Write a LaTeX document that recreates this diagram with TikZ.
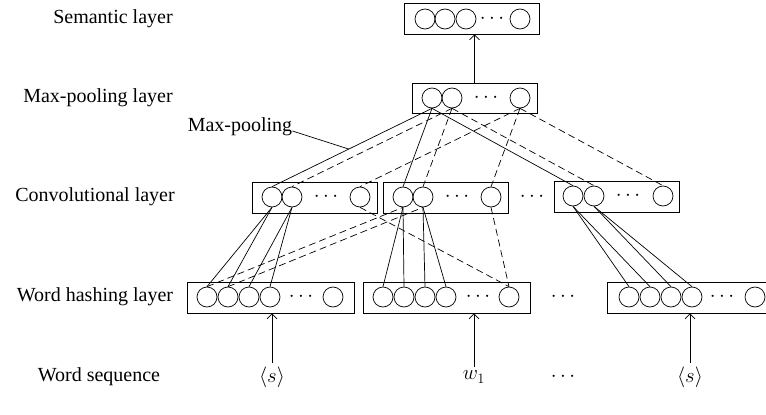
\documentclass[tikz,border=0pt]{standalone}
\usepackage{fontspec}
\setmainfont{Liberation Serif}
\usetikzlibrary{arrows.meta,calc}

\tikzset{
    unit/.style={draw, circle, minimum size=20pt, inner sep=0pt, line width=0.7pt},
    layerbox/.style={draw, rectangle, inner sep=0pt, minimum height=31pt, line width=0.7pt},
    conn/.style={line width=0.7pt},
    dconn/.style={line width=0.7pt, dash pattern=on 7pt off 4pt},
    uparrow/.style={line width=0.7pt, -{Straight Barb[length=5pt,width=10pt]}},
    layername/.style={inner sep=0pt},
}

\begin{document}
\begin{tikzpicture}[x=1pt, y=-1pt, font=\fontsize{20}{24}\selectfont]
    \useasboundingbox (0,0) rectangle (766,415);

    % Layer names
    \node[layername] (lsem) at (113, 19) {Semantic layer};
    \node[layername] (lmp) at (98, 98) {Max-pooling layer};
    \node[layername] (lconv) at (95, 197) {Convolutional layer};
    \node[layername] (lwh) at (95, 297) {Word hashing layer};
    \node[layername] (lws) at (99, 377) {Word sequence};

    % Semantic layer
    \node[layerbox, minimum width=135pt] (sembox) at (471.5, 18.5) {};
    \node[unit] (s1) at (425, 19) {};
    \node[unit] (s2) at (445, 19) {};
    \node[unit] (s3) at (466, 19) {};
    \node (sdots) at (492, 19) {$\cdots$};
    \node[unit] (s4) at (520, 19) {};

    % Max-pooling layer
    \node[layerbox, minimum width=125pt, minimum height=30pt] (mpbox) at (474.5, 98) {};
    \node[unit] (m1) at (432, 98) {};
    \node[unit] (m2) at (452, 98) {};
    \node (mdots) at (486, 98) {$\cdots$};
    \node[unit] (m3) at (520, 98) {};

    % Convolutional layer
    \node[layerbox, minimum width=125pt] (cbox1) at (314.5, 197.5) {};
    \node[unit] (c11) at (272, 197) {};
    \node[unit] (c12) at (292, 197) {};
    \node (c1dots) at (326, 197) {$\cdots$};
    \node[unit] (c13) at (360, 197) {};

    \node[layerbox, minimum width=125pt] (cbox2) at (445.5, 197.5) {};
    \node[unit] (c21) at (403, 197) {};
    \node[unit] (c22) at (423, 197) {};
    \node (c2dots) at (457, 197) {$\cdots$};
    \node[unit] (c23) at (491, 197) {};

    \node (cdots) at (532, 197) {$\cdots$};

    \node[layerbox, minimum width=125pt] (cbox3) at (616.5, 196.5) {};
    \node[unit] (c31) at (573, 196) {};
    \node[unit] (c32) at (594, 196) {};
    \node (c3dots) at (628, 196) {$\cdots$};
    \node[unit] (c33) at (663, 196) {};

    % Word hashing layer
    \node[layerbox, minimum width=167pt] (hbox1) at (270.5, 297.5) {};
    \node[unit] (h11) at (207, 297) {};
    \node[unit] (h12) at (228, 297) {};
    \node[unit] (h13) at (249, 297) {};
    \node[unit] (h14) at (270, 297) {};
    \node (h1dots) at (301, 297) {$\cdots$};
    \node[unit] (h15) at (333, 297) {};

    \node[layerbox, minimum width=167pt] (hbox2) at (446.5, 297.5) {};
    \node[unit] (h21) at (383, 297) {};
    \node[unit] (h22) at (404, 297) {};
    \node[unit] (h23) at (425, 297) {};
    \node[unit] (h24) at (446, 297) {};
    \node (h2dots) at (478, 297) {$\cdots$};
    \node[unit] (h25) at (509, 297) {};

    \node (hdots) at (563, 297) {$\cdots$};

    \node[layerbox, minimum width=167pt] (hbox3) at (690.5, 297.5) {};
    \node[unit] (h31) at (629, 297) {};
    \node[unit] (h32) at (650, 297) {};
    \node[unit] (h33) at (671, 297) {};
    \node[unit] (h34) at (692, 297) {};
    \node (h3dots) at (722, 297) {$\cdots$};
    \node[unit] (h35) at (755, 297) {};

    % Word sequence
    \node (ws1) at (272, 377) {$\langle s\rangle$};
    \node (ws2) at (474, 377) {$w_1$};
    \node (wsdots) at (563, 377) {$\cdots$};
    \node (ws3) at (690, 377) {$\langle s\rangle$};

    % Arrows into the layers
    \draw[uparrow] (ws1.north) -- (ws1.north |- hbox1.south);
    \draw[uparrow] (ws2.north) -- (ws2.north |- hbox2.south);
    \draw[uparrow] (ws3.north) -- (ws3.north |- hbox3.south);
    \draw[uparrow] (mpbox.north) -- (mpbox.north |- sembox.south);

    % Max-pooling to convolutional (solid = selected, dashed = others)
    \draw[conn] (m1.south) -- (c11.north);
    \draw[dconn] (m2.south) -- (c12.north);
    \draw[dconn] (m3.south) -- (c13.north);
    \draw[conn] (m1.south) -- (c21.north);
    \draw[dconn] (m2.south) -- (c22.north);
    \draw[dconn] (m3.south) -- (c23.north);
    \draw[conn] (m1.south) -- (c31.north);
    \draw[dconn] (m2.south) -- (c32.north);
    \draw[dconn] (m3.south) -- (c33.north);

    % Max-pooling label
    \node[inner sep=0pt] (mplabel) at (240, 127) {Max-pooling};
    \coordinate (mppoint) at ($(m1.south)!0.52!(c11.north)$);
    \draw[conn] ([yshift=-4pt]mplabel.east) -- (mppoint);

    % Convolutional to word hashing
    \draw[conn] (c11.south) -- (h11.north);
    \draw[conn] (c11.south) -- (h12.north);
    \draw[conn] (c12.south) -- (h13.north);
    \draw[conn] (c12.south) -- (h14.north);
    \draw[conn] (c21.south) -- (h21.north);
    \draw[conn] (c21.south) -- (h22.north);
    \draw[conn] (c22.south) -- (h23.north);
    \draw[conn] (c22.south) -- (h24.north);
    \draw[conn] (c31.south) -- (h31.north);
    \draw[conn] (c31.south) -- (h32.north);
    \draw[conn] (c32.south) -- (h33.north);
    \draw[conn] (c32.south) -- (h34.north);

    \draw[dconn] (h11.north) -- (c21.south);
    \draw[dconn] (h12.north) -- (c22.south);
    \draw[dconn] (c13.south) -- (h25.north);
    \draw[dconn] (c23.south) -- (h25.north);

\end{tikzpicture}
\end{document}
